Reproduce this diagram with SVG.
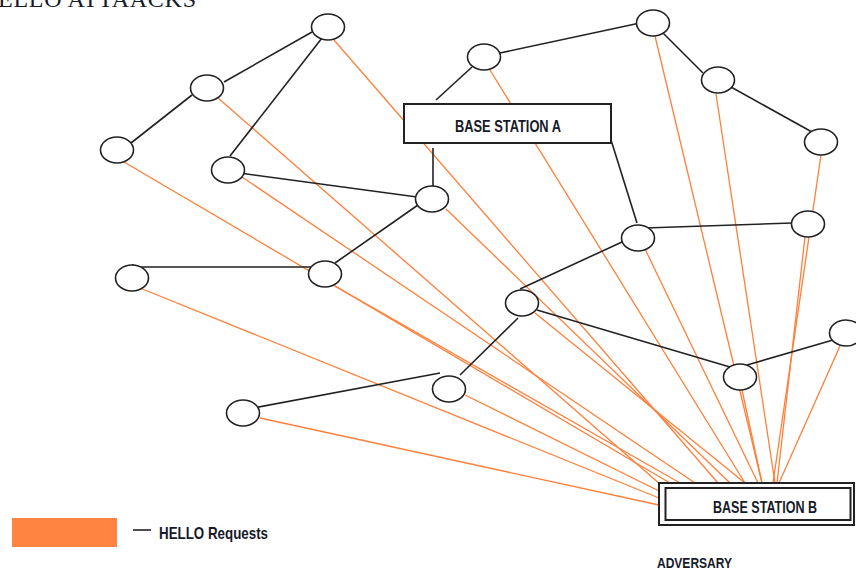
<svg xmlns="http://www.w3.org/2000/svg" width="856" height="571" viewBox="0 0 856 571">
  <style>
    .node { fill: #ffffff; stroke: #222; stroke-width: 1.6; }
    .link { stroke: #222; stroke-width: 1.6; fill: none; }
    .hello { stroke: #ff7f3a; stroke-width: 1.3; fill: none; }
    .box { fill: #ffffff; stroke: #222; stroke-width: 2; }
    .label { font-family: "Liberation Sans", Arial, sans-serif; font-weight: bold; fill: #161a2a; }
    .title { font-family: "Liberation Serif", "Times New Roman", serif; fill: #161a2a; }
  </style>

  <rect width="856" height="571" fill="#ffffff"/>

  <text class="title" x="-2" y="7" font-size="24" textLength="198" lengthAdjust="spacing">ELLO ATTAACKS</text>

  <!-- HELLO request flood towards base station B -->
  <g id="hello-requests">
    <line class="hello" x1="260" y1="418" x2="659" y2="505"/>
    <line class="hello" x1="140" y1="288" x2="659" y2="498"/>
    <line class="hello" x1="465" y1="395" x2="659" y2="491"/>
    <line class="hello" x1="218" y1="98" x2="661" y2="485"/>
    <line class="hello" x1="124" y1="162" x2="670" y2="483"/>
    <line class="hello" x1="335" y1="286" x2="680" y2="483"/>
    <line class="hello" x1="242" y1="177" x2="695" y2="483"/>
    <line class="hello" x1="334" y1="40" x2="718" y2="483"/>
    <line class="hello" x1="446" y1="209" x2="730" y2="483"/>
    <line class="hello" x1="535" y1="313" x2="745" y2="483"/>
    <line class="hello" x1="490" y1="70" x2="745" y2="483"/>
    <line class="hello" x1="645" y1="249" x2="758" y2="483"/>
    <line class="hello" x1="655" y1="36" x2="762" y2="483"/>
    <line class="hello" x1="742" y1="390" x2="762" y2="483"/>
    <line class="hello" x1="716" y1="94" x2="775" y2="483"/>
    <line class="hello" x1="821" y1="155" x2="773" y2="483"/>
    <line class="hello" x1="805" y1="237" x2="777" y2="483"/>
    <line class="hello" x1="840" y1="346" x2="779" y2="483"/>
  </g>

  <!-- network links -->
  <g id="links">
    <line class="link" x1="312" y1="32" x2="224" y2="82"/>
    <line class="link" x1="192" y1="95" x2="131" y2="143"/>
    <line class="link" x1="322" y1="38" x2="230" y2="156"/>
    <line class="link" x1="239" y1="173" x2="417" y2="197"/>
    <line class="link" x1="433" y1="148" x2="433" y2="190"/>
    <line class="link" x1="418" y1="205" x2="335" y2="263"/>
    <polyline class="link" points="133,264 133,267 313,267"/>
    <line class="link" x1="472" y1="67" x2="436" y2="100"/>
    <line class="link" x1="500" y1="53" x2="640" y2="23"/>
    <line class="link" x1="663" y1="33" x2="703" y2="73"/>
    <line class="link" x1="722" y1="82" x2="812" y2="132"/>
    <line class="link" x1="611" y1="140" x2="637" y2="223"/>
    <line class="link" x1="645" y1="228" x2="792" y2="223"/>
    <line class="link" x1="622" y1="242" x2="520" y2="289"/>
    <line class="link" x1="537" y1="310" x2="730" y2="367"/>
    <line class="link" x1="747" y1="365" x2="833" y2="340"/>
    <line class="link" x1="518" y1="318" x2="460" y2="375"/>
    <line class="link" x1="253" y1="408" x2="440" y2="373"/>
  </g>

  <!-- sensor nodes -->
  <g id="node-1"><ellipse class="node" cx="328" cy="27" rx="16.5" ry="13"/></g>
  <g id="node-2"><ellipse class="node" cx="207" cy="88" rx="16.5" ry="13"/></g>
  <g id="node-3"><ellipse class="node" cx="117" cy="150" rx="16.5" ry="13"/></g>
  <g id="node-4"><ellipse class="node" cx="228" cy="170" rx="16.5" ry="13"/></g>
  <g id="node-5"><ellipse class="node" cx="432" cy="199" rx="16.5" ry="13"/></g>
  <g id="node-6"><ellipse class="node" cx="132" cy="278" rx="16.5" ry="13"/></g>
  <g id="node-7"><ellipse class="node" cx="325" cy="274" rx="16.5" ry="13"/></g>
  <g id="node-8"><ellipse class="node" cx="484" cy="57" rx="16.5" ry="13"/></g>
  <g id="node-9"><ellipse class="node" cx="653" cy="23" rx="16.5" ry="13"/></g>
  <g id="node-10"><ellipse class="node" cx="718" cy="80" rx="16.5" ry="13"/></g>
  <g id="node-11"><ellipse class="node" cx="821" cy="142" rx="16.5" ry="13"/></g>
  <g id="node-12"><ellipse class="node" cx="638" cy="238" rx="16.5" ry="13"/></g>
  <g id="node-13"><ellipse class="node" cx="808" cy="224" rx="16.5" ry="13"/></g>
  <g id="node-14"><ellipse class="node" cx="522" cy="303" rx="16.5" ry="13"/></g>
  <g id="node-15"><ellipse class="node" cx="740" cy="377" rx="16.5" ry="13"/></g>
  <g id="node-16"><ellipse class="node" cx="846" cy="333" rx="16.5" ry="13"/></g>
  <g id="node-17"><ellipse class="node" cx="449" cy="389" rx="16.5" ry="13"/></g>
  <g id="node-18"><ellipse class="node" cx="243" cy="413" rx="16.5" ry="13"/></g>

  <!-- base stations -->
  <g id="base-station-a">
    <rect class="box" x="404" y="104" width="207" height="39"/>
    <text class="label" x="508" y="132" font-size="17" text-anchor="middle" textLength="106" lengthAdjust="spacingAndGlyphs">BASE STATION A</text>
  </g>
  <g id="base-station-b">
    <rect class="box" x="659" y="483" width="195" height="42"/>
    <rect class="box" x="665.5" y="488" width="185" height="32"/>
    <text class="label" x="765" y="513" font-size="17" text-anchor="middle" textLength="104" lengthAdjust="spacingAndGlyphs">BASE STATION B</text>
  </g>
  <g id="adversary">
    <text class="label" x="657" y="568" font-size="15" textLength="75" lengthAdjust="spacingAndGlyphs">ADVERSARY</text>
  </g>

  <!-- legend -->
  <g id="legend">
    <rect x="12" y="518" width="105" height="29" fill="#ff8442"/>
    <line x1="133" y1="530" x2="151" y2="530" stroke="#222" stroke-width="1.6"/>
    <text class="label" x="159" y="539" font-size="17" textLength="109" lengthAdjust="spacingAndGlyphs">HELLO Requests</text>
  </g>
</svg>
